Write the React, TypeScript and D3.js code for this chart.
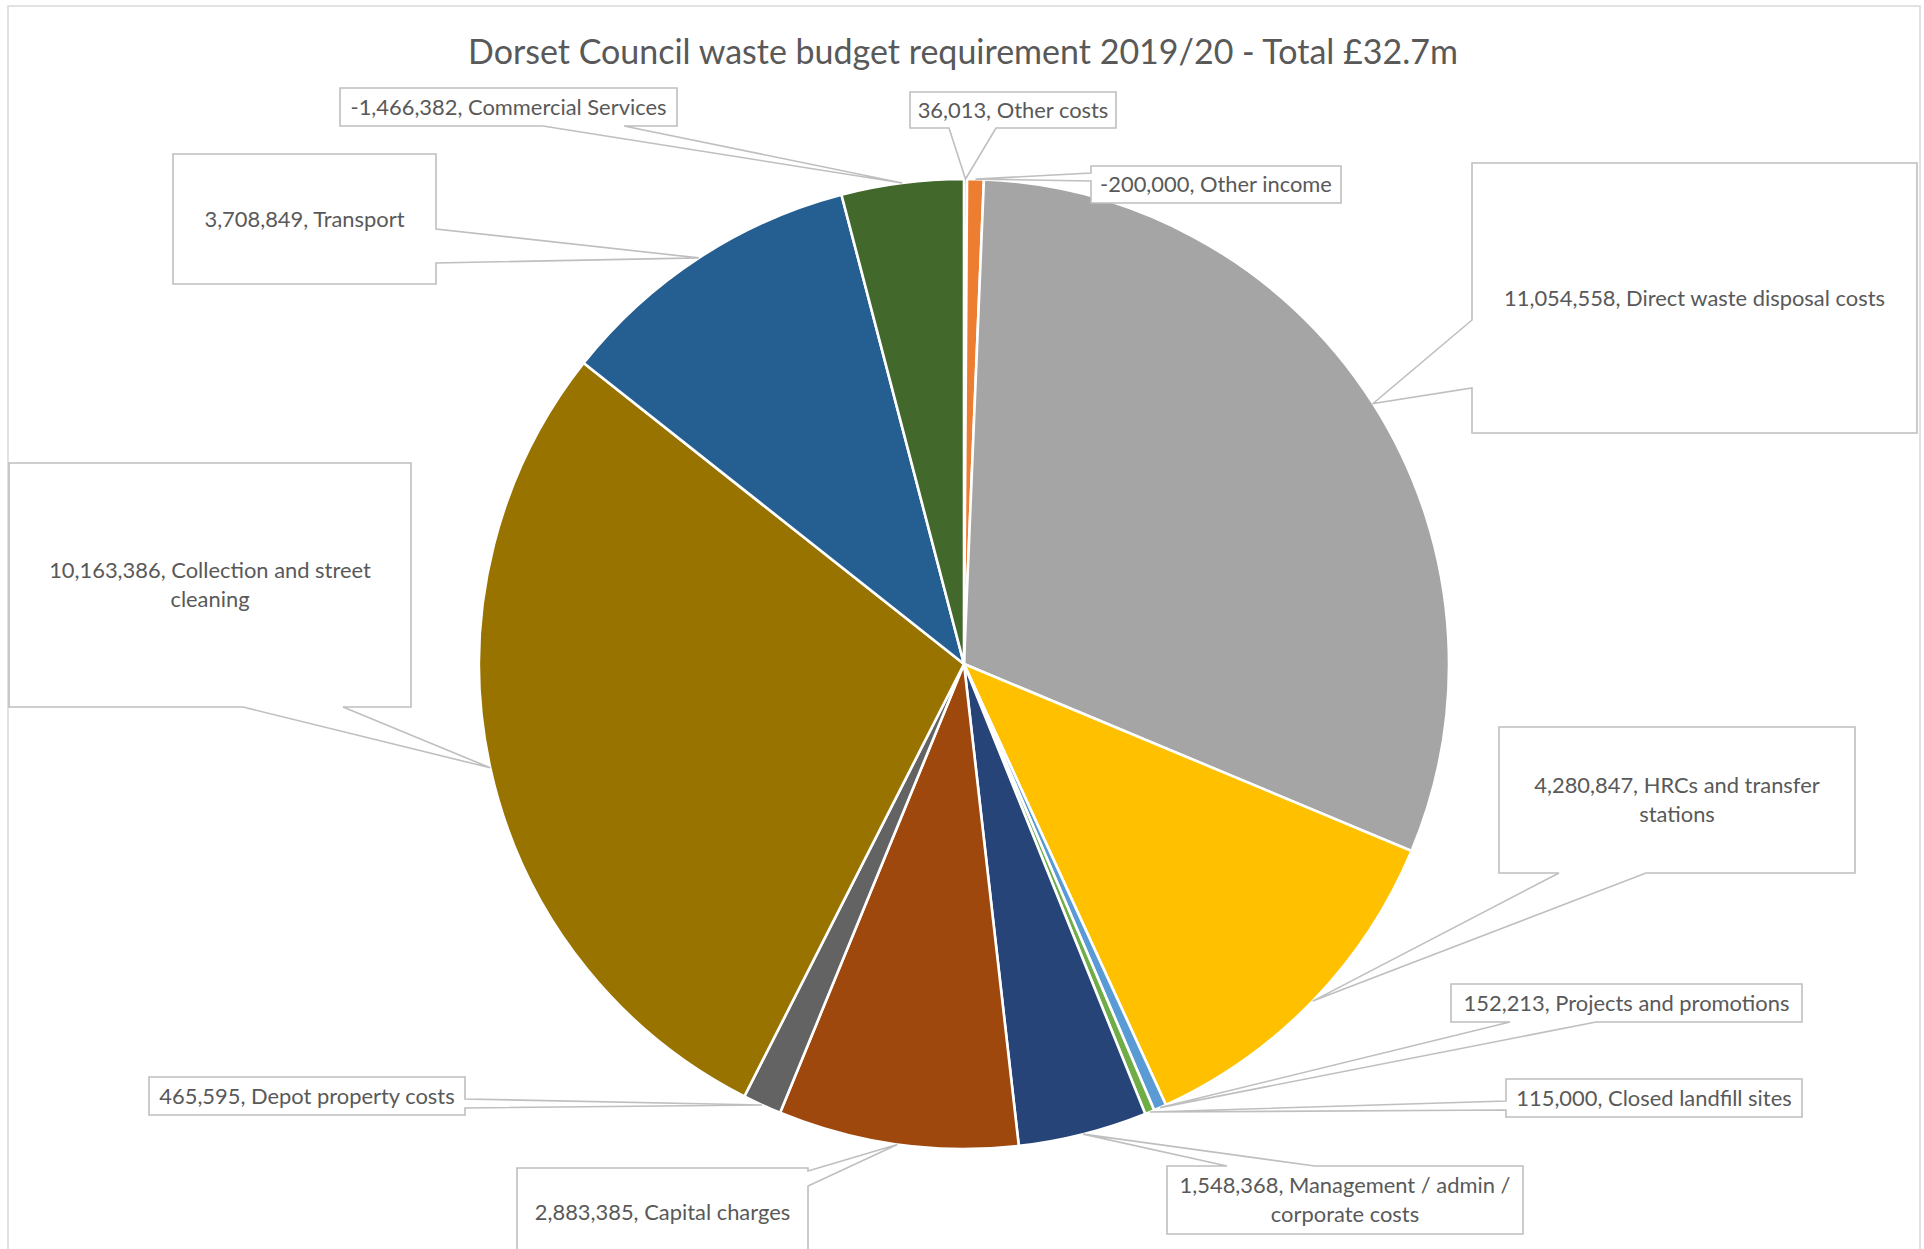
import React from 'react';
import * as d3 from 'd3';

const title = 'Dorset Council waste budget requirement 2019/20 - Total £32.7m';
const categories = [
  'Other costs',
  'Other income',
  'Direct waste disposal costs',
  'HRCs and transfer stations',
  'Projects and promotions',
  'Closed landfill sites',
  'Management / admin / corporate costs',
  'Capital charges',
  'Depot property costs',
  'Collection and street cleaning',
  'Transport',
  'Commercial Services',
];
const values = [36013, -200000, 11054558, 4280847, 152213, 115000, 1548368, 2883385, 465595, 10163386, 3708849, -1466382];
const colors = ['#4472C4', '#ED7D31', '#A5A5A5', '#FFC000', '#5B9BD5', '#70AD47', '#264478', '#9E480E', '#636363', '#997300', '#255E91', '#43682B'];

// label wrapping as in the reference (category text split into lines)
const labelBreaks: Record<string, string[]> = {
  'Collection and street cleaning': ['Collection and street', 'cleaning'],
  'HRCs and transfer stations': ['HRCs and transfer', 'stations'],
  'Management / admin / corporate costs': ['Management / admin /', 'corporate costs'],
};

// callout box layout: [x0, y0, x1, y1], wedge side, base range along that side
type Side = 'top' | 'right' | 'bottom' | 'left';
const calloutLayout: Record<string, { box: [number, number, number, number]; side: Side; base: [number, number] }> = {
  'Other costs': { box: [910, 92, 1116, 128], side: 'bottom', base: [949, 996] },
  'Other income': { box: [1091, 166, 1341, 203], side: 'left', base: [173, 181] },
  'Direct waste disposal costs': { box: [1472, 163, 1917, 433], side: 'left', base: [320, 388] },
  'HRCs and transfer stations': { box: [1499, 727, 1855, 873], side: 'bottom', base: [1559, 1646] },
  'Projects and promotions': { box: [1451, 984, 1802, 1022], side: 'bottom', base: [1510, 1596] },
  'Closed landfill sites': { box: [1506, 1079, 1802, 1117], side: 'left', base: [1101, 1110] },
  'Management / admin / corporate costs': { box: [1167, 1166, 1523, 1234], side: 'top', base: [1227, 1315] },
  'Capital charges': { box: [517, 1168, 808, 1256], side: 'right', base: [1171, 1186] },
  'Depot property costs': { box: [149, 1077, 465, 1115], side: 'right', base: [1099, 1108] },
  'Collection and street cleaning': { box: [9, 463, 411, 707], side: 'bottom', base: [243, 343] },
  'Transport': { box: [173, 154, 436, 284], side: 'right', base: [229, 263] },
  'Commercial Services': { box: [340, 88, 677, 126], side: 'bottom', base: [543, 624] },
};

const W = 1924;
const H = 1249;
const cx = 964;
const cy = 664;
const R = 485;
const FONT = 'Lato, "Open Sans", sans-serif';
const TEXT = '#595959';
const LINE = '#BFBFBF';

const fmt = d3.formatLocale({ decimal: '.', thousands: ',', grouping: [3], currency: ['£', ''], minus: '-' }).format(',');

function calloutPath(box: [number, number, number, number], side: Side, base: [number, number], tip: [number, number]) {
  const [x0, y0, x1, y1] = box;
  const [b0, b1] = base;
  const p: [number, number][] = [[x0, y0]];
  if (side === 'top') p.push([b0, y0], tip, [b1, y0]);
  p.push([x1, y0]);
  if (side === 'right') p.push([x1, b0], tip, [x1, b1]);
  p.push([x1, y1]);
  if (side === 'bottom') p.push([b1, y1], tip, [b0, y1]);
  p.push([x0, y1]);
  if (side === 'left') p.push([x0, b1], tip, [x0, b0]);
  return 'M' + p.map((q) => q[0] + ',' + q[1]).join('L') + 'Z';
}

export default function App() {
  const pie = d3
    .pie<number>()
    .sort(null)
    .value((d) => Math.abs(d))
    .startAngle(0)
    .endAngle(2 * Math.PI);
  const arcs = pie(values);
  const arc = d3.arc<d3.PieArcDatum<number>>().innerRadius(0).outerRadius(R);

  return (
    <svg
      width={W}
      height={H}
      style={{ position: 'absolute', left: 0, top: 0, background: '#fff' }}
      fontFamily={FONT}
    >
      <rect x={0} y={0} width={W} height={H} fill="#fff" />
      <rect x={8} y={6} width={1912} height={1270} fill="none" stroke="#D9D9D9" strokeWidth={1.5} />
      <text x={963} y={64} textAnchor="middle" fontSize={34} fill={TEXT}>
        {title}
      </text>
      <g transform={`translate(${cx},${cy})`}>
        {arcs.map((a, i) => (
          <path key={i} d={arc(a) || ''} fill={colors[i]} stroke="#fff" strokeWidth={2.6} strokeLinejoin="round" />
        ))}
      </g>
      {arcs.map((a, i) => {
        const name = categories[i];
        const lay = calloutLayout[name];
        const mid = (a.startAngle + a.endAngle) / 2;
        const tip: [number, number] = [cx + R * Math.sin(mid), cy - R * Math.cos(mid)];
        const lines0 = labelBreaks[name] || [name];
        const lines = lines0.map((l, j) => (j === 0 ? fmt(values[i]) + ', ' + l : l));
        const [x0, y0, x1, y1] = lay.box;
        const tx = (x0 + x1) / 2;
        const ty = (y0 + y1) / 2;
        const lh = 29;
        return (
          <g key={name}>
            <path d={calloutPath(lay.box, lay.side, lay.base, tip)} fill="#fff" stroke={LINE} strokeWidth={1.6} strokeLinejoin="miter" />
            {lines.map((l, j) => (
              <text
                key={j}
                x={tx}
                y={ty + (j - (lines.length - 1) / 2) * lh}
                dy="0.36em"
                textAnchor="middle"
                fontSize={21.9}
                fill={TEXT}
              >
                {l}
              </text>
            ))}
          </g>
        );
      })}
    </svg>
  );
}
